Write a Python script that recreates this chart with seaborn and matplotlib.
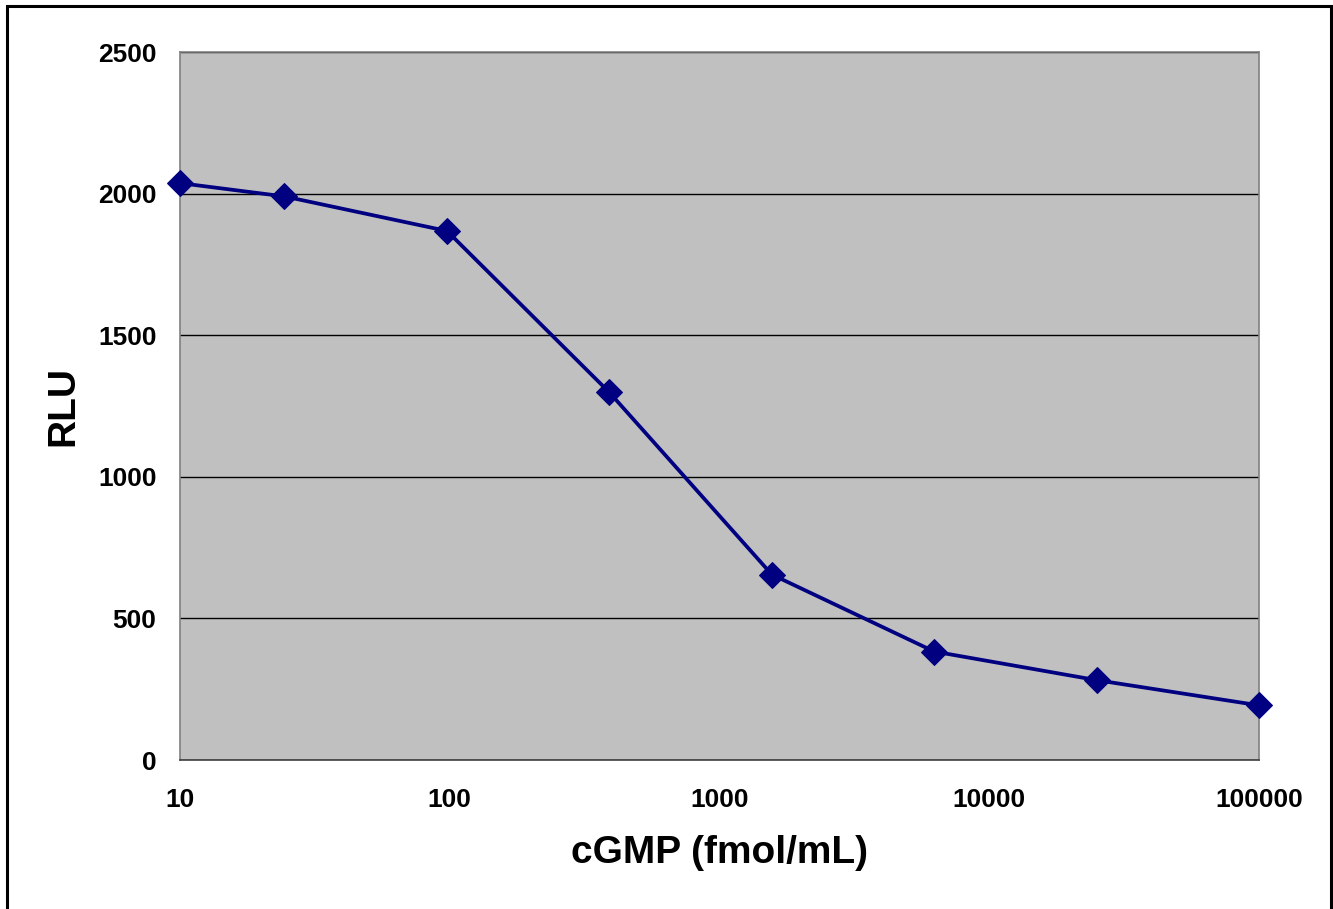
import matplotlib
matplotlib.use("Agg")
import matplotlib.pyplot as plt
import matplotlib.patches as mpatches
from matplotlib.ticker import FixedLocator, FixedFormatter, NullLocator
import seaborn as sns
import pandas as pd

# Data
cgmp = [10, 24.4, 97.7, 390.6, 1562.5, 6250, 25000, 100000]
rlu = [2037, 1990, 1868, 1298, 655, 383, 282, 193]
x_ticks = [10, 100, 1000, 10000, 100000]
x_tick_labels = ["10", "100", "1000", "10000", "100000"]
y_ticks = [0, 500, 1000, 1500, 2000, 2500]

df = pd.DataFrame({"cGMP": cgmp, "RLU": rlu})

sns.set_theme(style="white")
plt.rcParams["font.family"] = ["Liberation Sans", "DejaVu Sans"]

fig = plt.figure(figsize=(13.33, 9.09), dpi=100)
ax = fig.add_axes([180 / 1333, 1 - 760 / 909, (1259 - 180) / 1333, (760 - 52) / 909])
ax.set_facecolor("#C0C0C0")

sns.lineplot(data=df, x="cGMP", y="RLU", ax=ax, color="#000080", linewidth=2.7,
             marker="D", markersize=13.5, markeredgecolor="#000080", zorder=3,
             clip_on=False)

ax.set_xscale("log")
ax.set_xlim(10, 100000)
ax.set_ylim(0, 2500)
ax.xaxis.set_major_locator(FixedLocator(x_ticks))
ax.xaxis.set_major_formatter(FixedFormatter(x_tick_labels))
ax.xaxis.set_minor_locator(NullLocator())
ax.set_yticks(y_ticks)
ax.set_yticklabels([str(v) for v in y_ticks])

ax.yaxis.grid(True, color="black", linewidth=1.0)
ax.xaxis.grid(False)
ax.set_axisbelow(True)

for s in ax.spines.values():
    s.set_color("#808080")
    s.set_linewidth(1.2)
ax.spines["bottom"].set_color("#404040")

ax.tick_params(axis="both", which="major", direction="out", length=7, width=1,
               color="#808080", labelsize=19, labelcolor="black")
ax.tick_params(axis="x", pad=13)
ax.tick_params(axis="y", pad=10)
for lab in ax.get_xticklabels() + ax.get_yticklabels():
    lab.set_fontweight("bold")

ax.set_xlabel("cGMP (fmol/mL)", fontsize=28, fontweight="bold", labelpad=17, color="black")
ax.set_ylabel("RLU", fontsize=28, fontweight="bold", labelpad=12, color="black")

border = mpatches.Rectangle((7 / 1333, -0.01), (1331 - 7) / 1333, 1 - 6 / 909 + 0.01,
                            transform=fig.transFigure, fill=False, edgecolor="black",
                            linewidth=2.2, zorder=10)
fig.patches.append(border)

fig.savefig("out.png", dpi=100, facecolor="white")
